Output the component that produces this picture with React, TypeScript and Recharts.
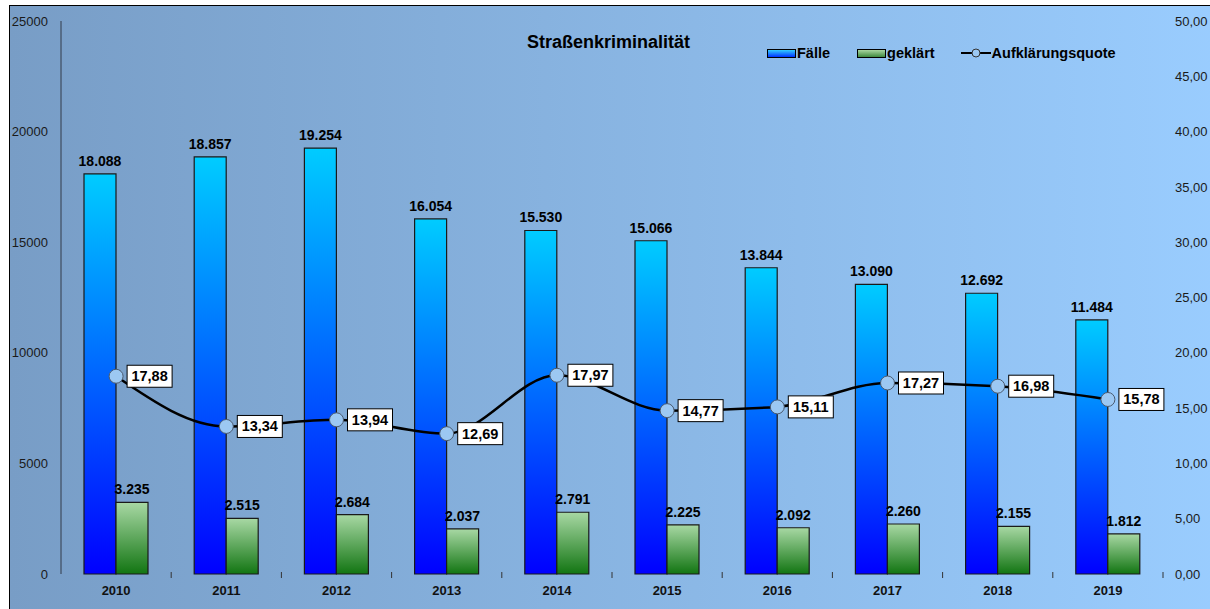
import {
  ComposedChart,
  Bar,
  Line,
  XAxis,
  YAxis,
  Legend,
  LabelList,
} from 'recharts'

const years = ['2010', '2011', '2012', '2013', '2014', '2015', '2016', '2017', '2018', '2019']
const faelle = [18088, 18857, 19254, 16054, 15530, 15066, 13844, 13090, 12692, 11484]
const geklaert = [3235, 2515, 2684, 2037, 2791, 2225, 2092, 2260, 2155, 1812]
const quote = [17.88, 13.34, 13.94, 12.69, 17.97, 14.77, 15.11, 17.27, 16.98, 15.78]

const leftTicks = [0, 5000, 10000, 15000, 20000, 25000]
const rightTicks = [0, 5, 10, 15, 20, 25, 30, 35, 40, 45, 50]

const data = years.map((year, i) => ({
  year,
  faelle: faelle[i],
  geklaert: geklaert[i],
  quote: quote[i],
}))

const font = '"Liberation Sans", Arial, sans-serif'
const thousands = (v: number) => v.toLocaleString('de-DE')
const comma = (v: number) => v.toFixed(2).replace('.', ',')

const YearTick = (props: any) => {
  const { x, y, payload } = props
  const half = payload?.offset ?? 0
  return (
    <g>
      <text x={x} y={y + 21} textAnchor="middle" fontSize={13} fontWeight="bold" fill="#111" fontFamily={font}>
        {payload.value}
      </text>
      {half ? <line x1={x + half} x2={x + half} y1={y - 2} y2={y + 4} stroke="#333" strokeWidth={1} /> : null}
    </g>
  )
}

const QuoteDot = (props: any) => {
  const { cx, cy } = props
  if (cx == null || cy == null) return null
  return <circle cx={cx} cy={cy} r={7} fill="#9cc8f2" stroke="#4b5a6e" strokeWidth={1} />
}

const QuoteLabel = (props: any) => {
  const { x, y, value } = props
  return (
    <g>
      <rect x={x + 11} y={y - 11} width={45} height={22} fill="#fff" stroke="#000" strokeWidth={1} />
      <text x={x + 33.5} y={y + 5} textAnchor="middle" fontSize={14.5} fontWeight="bold" fill="#000" fontFamily={font}>
        {comma(value)}
      </text>
    </g>
  )
}

const LegendContent = () => (
  <div style={{ display: 'flex', alignItems: 'center', fontFamily: font, fontSize: 14.5, fontWeight: 'bold', color: '#000', lineHeight: '18px', whiteSpace: 'nowrap' }}>
    <div style={{ width: 27, height: 7, border: '1px solid #000', background: 'linear-gradient(#33ccff, #0033ff)', marginRight: 1 }} />
    <span style={{ marginRight: 27 }}>Fälle</span>
    <div style={{ width: 27, height: 7, border: '1px solid #000', background: 'linear-gradient(#a8d6a0, #3f8a3f)', marginRight: 1 }} />
    <span style={{ marginRight: 26 }}>geklärt</span>
    <svg width={30} height={12} style={{ marginRight: 1 }}>
      <line x1={0} x2={30} y1={6} y2={6} stroke="#000" strokeWidth={2} />
      <circle cx={15} cy={6} r={4} fill="#9cc8f2" stroke="#333" strokeWidth={1} />
    </svg>
    <span>Aufklärungsquote</span>
  </div>
)

export default function App() {
  return (
    <div style={{ position: 'absolute', left: 0, top: 0, width: 1210, height: 609, overflow: 'hidden', background: '#fff' }}>
      <div
        style={{
          position: 'absolute',
          left: 9,
          top: 5,
          width: 1220,
          height: 620,
          borderLeft: '1px solid #000',
          borderTop: '1px solid #000',
          background: 'linear-gradient(to right, #789dc6, #9acdff)',
        }}
      />
      <div style={{ position: 'absolute', left: 527, top: 31, fontFamily: font, fontSize: 18, fontWeight: 'bold', color: '#000', lineHeight: '22px' }}>
        Straßenkriminalität
      </div>
      <div style={{ position: 'absolute', left: 0, top: 0 }}>
        <ComposedChart width={1210} height={609} data={data} margin={{ top: 21, right: 0, bottom: 5, left: 9 }} barGap={0}>
          <defs>
            <linearGradient id="gradFaelle" x1="0" y1="0" x2="0" y2="1">
              <stop offset="0%" stopColor="#00ccff" />
              <stop offset="100%" stopColor="#0000ff" />
            </linearGradient>
            <linearGradient id="gradGeklaert" x1="0" y1="0" x2="0" y2="1">
              <stop offset="0%" stopColor="#a8d8a4" />
              <stop offset="100%" stopColor="#127512" />
            </linearGradient>
          </defs>
          <XAxis
            dataKey="year"
            height={30}
            axisLine={false}
            tickLine={false}
            tickSize={0}
            tickMargin={0}
            tick={<YearTick />}
            interval={0}
          />
          <YAxis
            yAxisId="left"
            width={52}
            domain={[0, 25000]}
            ticks={leftTicks}
            axisLine={{ stroke: '#333a48' }}
            tickLine={false}
            tickSize={4}
            tickMargin={9}
            tick={{ fontSize: 13, fill: '#1a1a1a', fontFamily: font }}
          />
          <YAxis
            yAxisId="right"
            orientation="right"
            width={47}
            domain={[0, 50]}
            ticks={rightTicks}
            axisLine={false}
            tickLine={false}
            tickSize={4}
            tickMargin={8}
            tickFormatter={comma}
            tick={{ fontSize: 13, fill: '#1a1a1a', fontFamily: font, textAnchor: 'start' }}
          />
          <Legend
            layout="horizontal"
            verticalAlign="middle"
            align="center"
            content={<LegendContent />}
            wrapperStyle={{ top: 44, left: 767, width: 390, height: 18 }}
          />
          <Bar yAxisId="left" dataKey="faelle" name="Fälle" barSize={32} fill="url(#gradFaelle)" stroke="#1a1a1a" strokeWidth={1.2} isAnimationActive={false}>
            <LabelList dataKey="faelle" position="top" offset={8} formatter={(v: any) => thousands(v)} style={{ fontSize: 14, fontWeight: 'bold', fill: '#000', fontFamily: font }} />
          </Bar>
          <Bar yAxisId="left" dataKey="geklaert" name="geklärt" barSize={32} fill="url(#gradGeklaert)" stroke="#1a1a1a" strokeWidth={1.2} isAnimationActive={false}>
            <LabelList dataKey="geklaert" position="top" offset={8} formatter={(v: any) => thousands(v)} style={{ fontSize: 14, fontWeight: 'bold', fill: '#000', fontFamily: font }} />
          </Bar>
          <Line
            yAxisId="right"
            type="monotone"
            dataKey="quote"
            name="Aufklärungsquote"
            stroke="#000"
            strokeWidth={2.5}
            dot={<QuoteDot />}
            activeDot={false}
            isAnimationActive={false}
          >
            <LabelList dataKey="quote" content={<QuoteLabel />} />
          </Line>
        </ComposedChart>
      </div>
    </div>
  )
}
